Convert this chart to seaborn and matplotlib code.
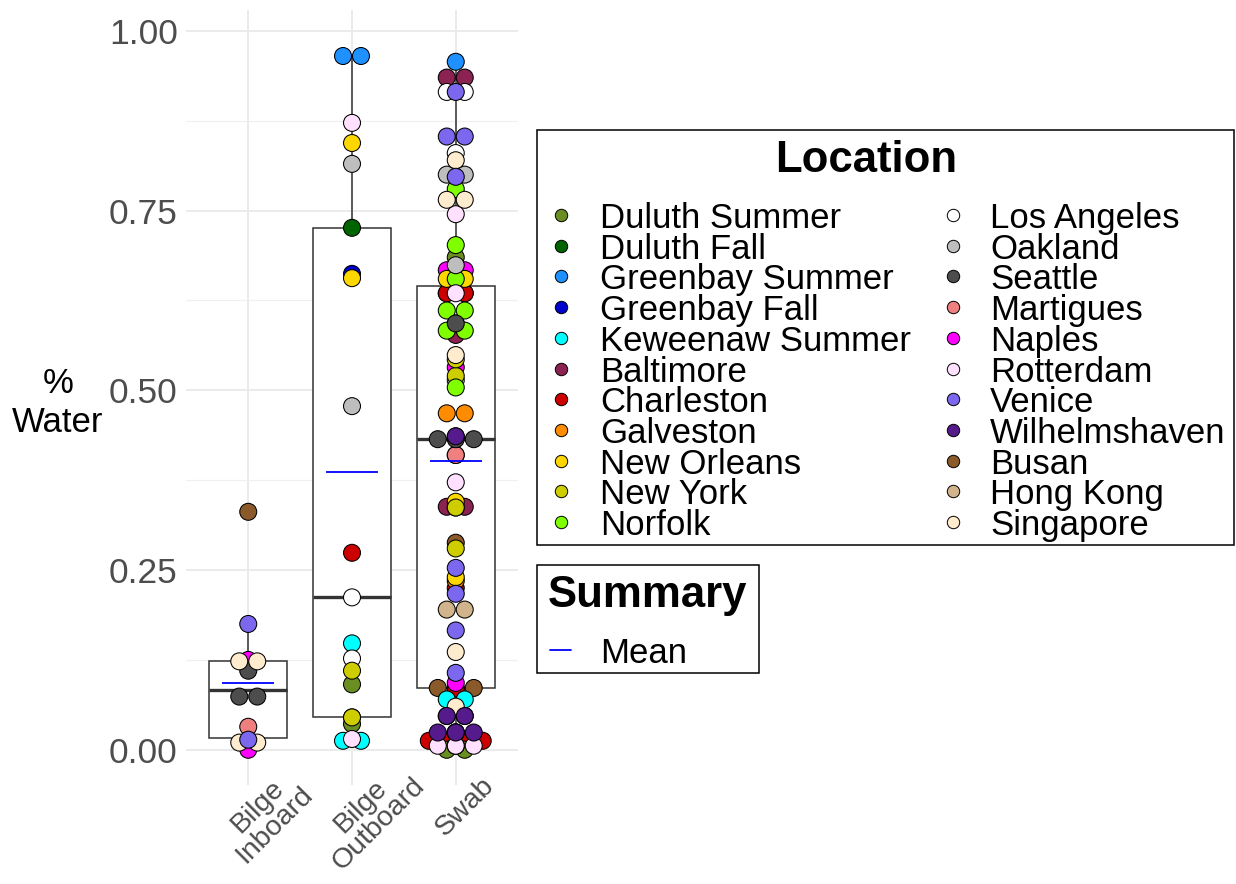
import numpy as np
import pandas as pd
import matplotlib
matplotlib.use("Agg")
import matplotlib.pyplot as plt
import seaborn as sns
from matplotlib.patches import Rectangle
from matplotlib.ticker import MultipleLocator, FormatStrFormatter

# ---------------------------------------------------------------- data
sample_types = ["Bilge\nInboard", "Bilge\nOutboard", "Swab"]

locations = ["Duluth Summer", "Duluth Fall", "Greenbay Summer", "Greenbay Fall",
             "Keweenaw Summer", "Baltimore", "Charleston", "Galveston",
             "New Orleans", "New York", "Norfolk", "Los Angeles", "Oakland",
             "Seattle", "Martigues", "Naples", "Rotterdam", "Venice",
             "Wilhelmshaven", "Busan", "Hong Kong", "Singapore"]

location_colors = ["#6B8E23", "#006400", "#1E90FF", "#0000CD",
                   "#00FFFF", "#8B2252", "#CD0000", "#FF8C00",
                   "#FFD700", "#CDCD00", "#7FFF00", "#FFFFFF", "#BEBEBE",
                   "#4D4D4D", "#F08080", "#FF00FF", "#FFE1FF", "#7B68EE",
                   "#551A8B", "#8B5A2B", "#D2B48C", "#FFEBCD"]

# fraction of water per sample, grouped by sampling location
bilge_inboard = {
    "Naples": [0.0, 0.125],
    "Singapore": [0.004, 0.016, 0.123, 0.123],
    "Venice": [0.014, 0.175],
    "Martigues": [0.032],
    "Seattle": [0.065, 0.083, 0.11],
    "Busan": [0.331],
}

bilge_outboard = {
    "Keweenaw Summer": [0.0125, 0.0125, 0.148],
    "Rotterdam": [0.015, 0.872],
    "Duluth Summer": [0.036, 0.091],
    "New York": [0.045, 0.110],
    "Duluth Fall": [0.045, 0.726],
    "Los Angeles": [0.127, 0.212],
    "Charleston": [0.274],
    "Oakland": [0.478, 0.815],
    "New Orleans": [0.656, 0.844],
    "Greenbay Fall": [0.662],
    "Greenbay Summer": [0.965, 0.965],
}

swab = {
    "Duluth Summer": [0.0, 0.0, 0.436, 0.685],
    "Duluth Fall": [0.024, 0.337],
    "Greenbay Summer": [0.957],
    "Greenbay Fall": [0.024],
    "Keweenaw Summer": [0.07, 0.07, 0.41, 0.593],
    "Baltimore": [0.047, 0.047, 0.338, 0.338, 0.577, 0.635, 0.635, 0.935, 0.935],
    "Charleston": [0.0125, 0.0125, 0.0125, 0.0125, 0.085, 0.225, 0.635, 0.635],
    "Galveston": [0.0056, 0.235, 0.468, 0.468],
    "New Orleans": [0.0056, 0.24, 0.345, 0.655, 0.655],
    "New York": [0.28, 0.337, 0.52, 0.543],
    "Norfolk": [0.504, 0.583, 0.583, 0.611, 0.611, 0.655, 0.702, 0.78],
    "Los Angeles": [0.514, 0.83, 0.915, 0.915],
    "Oakland": [0.024, 0.674, 0.80, 0.80],
    "Seattle": [0.432, 0.432, 0.432, 0.593],
    "Martigues": [0.41],
    "Naples": [0.093, 0.532, 0.667, 0.667],
    "Rotterdam": [0.0056, 0.0056, 0.0056, 0.372, 0.635, 0.745],
    "Venice": [0.107, 0.166, 0.217, 0.253, 0.797, 0.853, 0.853, 0.915],
    "Wilhelmshaven": [0.024, 0.024, 0.024, 0.047, 0.047, 0.436],
    "Busan": [0.086, 0.086, 0.086, 0.288],
    "Hong Kong": [0.195, 0.195],
    "Singapore": [0.06, 0.136, 0.549, 0.765, 0.765, 0.82],
}

samples = {sample_types[0]: bilge_inboard,
           sample_types[1]: bilge_outboard,
           sample_types[2]: swab}

rows = [(s, loc, v) for s, d in samples.items() for loc, vals in d.items() for v in vals]
df = pd.DataFrame(rows, columns=["sample", "location", "water"])

# ---------------------------------------------------------------- layout
W, H, DPI = 1236, 884, 100
AX_L, AX_R, AX_T, AX_B = 186, 518, 10, 785
XLIM = (-0.6, 2.6)
YLIM = (-0.049, 1.029)
BINWIDTH = 0.02
DOT_DIAM = 0.025          # dot diameter in data units of the value axis

FONT = "Liberation Sans"
sns.set_theme(style="white")
plt.rcParams["font.family"] = [FONT, "DejaVu Sans"]
plt.rcParams["text.color"] = "black"

fig = plt.figure(figsize=(W / DPI, H / DPI), dpi=DPI)
ax = fig.add_axes([AX_L / W, 1 - AX_B / H, (AX_R - AX_L) / W, (AX_B - AX_T) / H])

px_per_y = (AX_B - AX_T) / (YLIM[1] - YLIM[0])
px_per_x = (AX_R - AX_L) / (XLIM[1] - XLIM[0])
dot_px = DOT_DIAM * px_per_y
step_x = dot_px / px_per_x


def dot_density(frame, binwidth):
    """Bin values per sample/location and stack each bin centred across x."""
    out = []
    for (s, loc), g in frame.groupby(["sample", "location"], sort=False):
        vals = np.sort(g["water"].to_numpy())
        bins, end = [], -np.inf
        for v in vals:
            if v >= end - 1e-12:
                bins.append([v])
                end = v + binwidth
            else:
                bins[-1].append(v)
        for b in bins:
            centre, n = (b[0] + b[-1]) / 2, len(b)
            for k in range(n):
                out.append((s, loc, centre, k - (n - 1) / 2))
    res = pd.DataFrame(out, columns=["sample", "location", "y", "slot"])
    res["x"] = res["sample"].map({s: i for i, s in enumerate(sample_types)}) + res["slot"] * step_x
    return res


dots = dot_density(df, BINWIDTH)
dots = dots.sort_values("location", kind="stable").reset_index(drop=True)

palette = dict(zip(locations, location_colors))

# boxes
sns.boxplot(data=df, x="sample", y="water", order=sample_types, width=0.75,
            showfliers=False, showcaps=False, color="white", linecolor="#333333",
            linewidth=1.1, medianprops={"linewidth": 2.4}, ax=ax)

# stacked dots
marker_pt = (dot_px - 1.0) * 72 / DPI
sns.scatterplot(data=dots, x="x", y="y", hue="location", palette=palette,
                s=marker_pt ** 2, edgecolor="black", linewidth=0.75,
                legend=False, ax=ax, zorder=3)

# mean markers
means = df.groupby("sample")["water"].mean().reindex(sample_types)
pos = np.arange(len(sample_types))
ax.hlines(means.values, pos - 0.25, pos + 0.25, colors="#0000FF", lw=1.3, zorder=4)

# axes styling
ax.set_xlim(*XLIM)
ax.set_ylim(*YLIM)
ax.set_xticks(pos)
ax.set_xticklabels(sample_types, rotation=45, ha="center", va="top",
                   rotation_mode="anchor", fontsize=20.5, color="#4D4D4D",
                   linespacing=0.95)
ax.set_yticks([0, 0.25, 0.5, 0.75, 1.0])
ax.yaxis.set_major_formatter(FormatStrFormatter("%.2f"))
ax.yaxis.set_minor_locator(MultipleLocator(0.125))
ax.tick_params(axis="y", labelsize=25.5, labelcolor="#4D4D4D", length=0, pad=6)
ax.tick_params(axis="x", length=0, pad=9)
ax.set_xlabel("")
ax.set_ylabel("")
for sp in ax.spines.values():
    sp.set_visible(False)
ax.set_axisbelow(True)
ax.grid(which="major", color="#EBEBEB", lw=1.4)
ax.grid(which="minor", axis="y", color="#F0F0F0", lw=0.9)
ax.set_facecolor("white")

fig.text(58 / W, 1 - 403 / H, "%\nWater", ha="center", va="center",
         fontsize=25, color="black", linespacing=1.2)

# ---------------------------------------------------------------- legends
lg = fig.add_axes([0, 0, 1, 1], zorder=10)
lg.set_xlim(0, W)
lg.set_ylim(H, 0)
lg.axis("off")
lg.patch.set_alpha(0)

lg.add_patch(Rectangle((537, 130), 697, 415, fill=False, ec="black", lw=1.1))
lg.text(866, 161, "Location", ha="center", va="center", fontsize=31.5,
        fontweight="bold", color="black")
cols = [(561, 600), (953, 990)]
for i, (loc, col) in enumerate(zip(locations, location_colors)):
    c, r = divmod(i, 11)
    y = 215 + r * 30.7
    lg.scatter(cols[c][0], y, s=80, c=col, edgecolors="black", linewidths=0.7)
    lg.text(cols[c][1], y, loc, ha="left", va="center_baseline", fontsize=25,
            color="black")

lg.add_patch(Rectangle((537, 565), 222, 108, fill=False, ec="black", lw=1.1))
lg.text(548, 596, "Summary", ha="left", va="center", fontsize=31.5,
        fontweight="bold", color="black")
lg.plot([550, 571], [650, 650], color="#0000FF", lw=1.3)
lg.text(600, 650, "Mean", ha="left", va="center_baseline", fontsize=25,
        color="black")

fig.savefig("out.png", dpi=DPI, facecolor="white")
